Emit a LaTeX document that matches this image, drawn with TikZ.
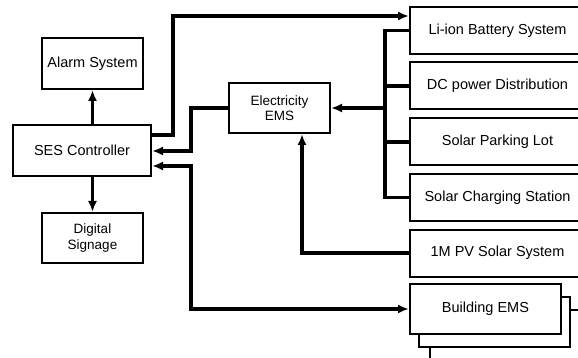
\documentclass[tikz,border=0pt]{standalone}
\usepackage{fontspec}
\setmainfont{Liberation Sans}
\usetikzlibrary{arrows.meta}

\begin{document}
\begin{tikzpicture}[x=1pt, y=-1pt,
    block/.style={draw, line width=2pt, fill=white, inner sep=2pt,
                  font=\fontsize{14.5}{16}\selectfont},
    twoline/.style={block, align=center, font=\fontsize{13.5}{15.5}\selectfont},
    unit/.style={block, minimum width=175pt, minimum height=47pt},
    conn/.style={line width=3.2pt},
    >={Latex[length=11pt, width=9pt]}]
    \useasboundingbox (0,0) rectangle (578,358);
    \clip (0,0) rectangle (578,358);

    % Controller side
    \node[block, minimum width=101pt, minimum height=51pt] (alarm) at (92.5,63.5) {Alarm System};
    \node[block, minimum width=138pt, minimum height=51pt] (ses) at (82,150.5) {SES Controller};
    \node[twoline, minimum width=101pt, minimum height=50pt] (signage) at (92.5,238) {Digital\\Signage};

    % Energy management
    \node[twoline, minimum width=101pt, minimum height=50pt] (ems) at (279.5,108) {Electricity\\EMS};

    % Units on the right
    \node[unit] (liion) at (497.5,30.5) {Li-ion Battery System};
    \node[unit] (dc) at (497.5,86) {DC power Distribution};
    \node[unit] (parking) at (497.5,142) {Solar Parking Lot};
    \node[unit] (charging) at (497.5,197.5) {Solar Charging Station};
    \node[unit] (pv) at (497.5,253) {1M PV Solar System};

    % Building EMS stack
    \node[block, minimum width=151pt, minimum height=50pt] (bems3) at (505.5,335) {};
    \node[block, minimum width=151pt, minimum height=50pt] (bems2) at (494.5,322) {};
    \node[block, minimum width=151pt, minimum height=50pt] (bems) at (485.5,309) {Building EMS};

    % Controller links
    \draw[conn, ->] (alarm.south |- ses.north) -- (alarm.south);
    \draw[conn, ->] (signage.north |- ses.south) -- (signage.north);
    \draw[conn, ->] (ses.east |- 0,135) -| (173,16) -- (liion.west |- 0,16);
    \draw[conn, ->] (ems.west) -| (191,151) -- (ses.east |- 0,151);
    \draw[conn, <->] (ses.east |- 0,166) -| (191,309) -- (bems.west);

    % Bus to the EMS
    \draw[conn] (liion.west) -- (liion.west -| 385,0) |- (charging.west);
    \draw[conn] (dc.west) -- (dc.west -| 385,0);
    \draw[conn] (parking.west) -- (parking.west -| 385,0);
    \draw[conn, ->] (ems.east -| 385,0) -- (ems.east);
    \draw[conn, ->] (pv.west) -| ([xshift=22.5pt]ems.south);
\end{tikzpicture}
\end{document}
